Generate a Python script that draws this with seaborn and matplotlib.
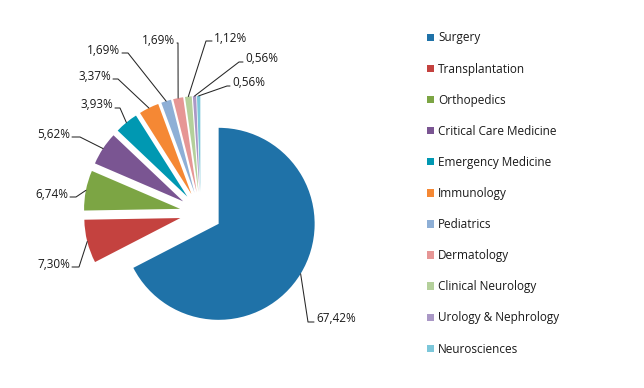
import numpy as np
import matplotlib.pyplot as plt
import seaborn as sns

departments = ["Surgery", "Transplantation", "Orthopedics", "Critical Care Medicine",
               "Emergency Medicine", "Immunology", "Pediatrics", "Dermatology",
               "Clinical Neurology", "Urology & Nephrology", "Neurosciences"]
counts = [120, 13, 12, 10, 7, 6, 3, 3, 2, 1, 1]
colors = ["#1f72a8", "#c4423f", "#7ca544", "#7a5592", "#0098b2", "#f58834",
          "#8eafd6", "#e69695", "#b4d09b", "#aa98c6", "#7cc7da"]

W, H = 644, 388
sns.set_theme(style="white")
plt.rcParams["font.family"] = ["Open Sans", "DejaVu Sans"]
FS = 8.5

fig = plt.figure(figsize=(W / 100, H / 100), dpi=100)
ax = fig.add_axes([0, 0, 1, 1])

cx, cy = 200.7, H - 212.9
R = 96
expl = 21
wedges, _ = ax.pie(counts, colors=sns.color_palette(colors), startangle=90,
                   counterclock=False, radius=R, center=(cx, cy),
                   explode=[expl] * len(counts), wedgeprops=dict(linewidth=0))
ax.set_xlim(0, W)
ax.set_ylim(0, H)
ax.set_aspect("auto")
ax.axis("off")

# leader line elbows (pixels from top-left), text side and tail length
elbows = [(308, 322), (79, 267), (76, 197), (80, 137), (120, 108), (118, 79),
          (128, 53), (178, 43), (206, 41), (239, 62), (227, 86)]
sides = [1, -1, -1, -1, -1, -1, -1, -1, 1, 1, 1]
tails = [6, 7, 6, 8, 5, 5, 6, 1, 6, 4, 3]

total = sum(counts)
for w, n, (ex, ey), s, t in zip(wedges, counts, elbows, sides, tails):
    th = np.deg2rad((w.theta1 + w.theta2) / 2)
    x0 = w.center[0] + R * np.cos(th)
    y0 = w.center[1] + R * np.sin(th)
    ey = H - ey
    ax.plot([x0, ex, ex + t * s], [y0, ey, ey], color="#262626", lw=0.75)
    txt = f"{100 * n / total:.2f}%".replace(".", ",")
    ax.text(ex + (t + 2) * s, ey + 3, txt, ha="left" if s > 0 else "right",
            va="center", fontsize=FS, color="#1a1a1a")

ax.legend(wedges, departments, loc="center left",
          bbox_to_anchor=(427 / W, 1 - 193.5 / H), frameon=False, fontsize=FS,
          handlelength=0.59, handleheight=0.59, handletextpad=0.35,
          labelspacing=1.535, borderpad=0, borderaxespad=0, labelcolor="#1a1a1a")

fig.savefig("out.png", dpi=100)
